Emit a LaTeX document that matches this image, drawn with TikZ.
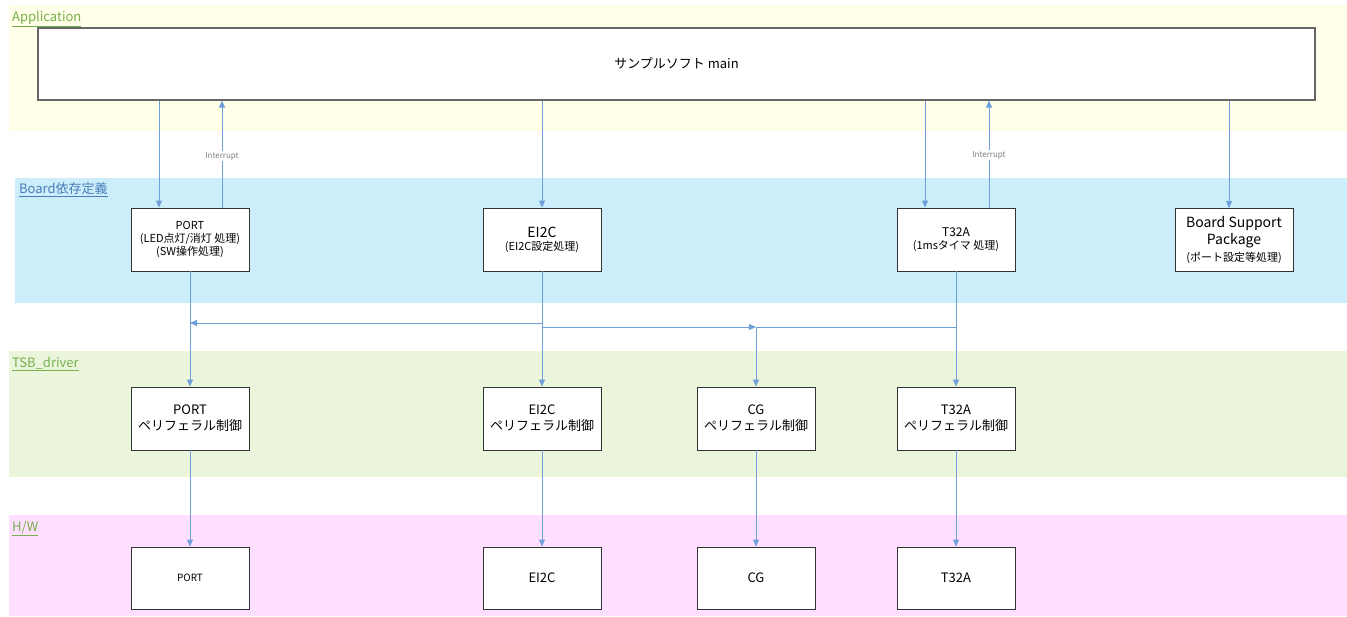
\documentclass[tikz,border=0pt]{standalone}
\usepackage{fontspec}
\setmainfont{Noto Sans CJK JP}
\usetikzlibrary{arrows.meta,calc}
\definecolor{bandY}{HTML}{FFFFEA}
\definecolor{bandB}{HTML}{CCEEFA}
\definecolor{bandG}{HTML}{EAF5DC}
\definecolor{bandP}{HTML}{FFDFFF}
\definecolor{lblG}{HTML}{77B04C}
\definecolor{lblB}{HTML}{4A7EBB}
\definecolor{arrC}{HTML}{6F9FD8}
\definecolor{boxC}{HTML}{333333}
\tikzset{
  box/.style={draw=boxC,line width=0.9pt,fill=white,minimum width=118pt,minimum height=63pt,inner sep=1pt,align=center,font=\fontsize{11}{13}\selectfont},
  arr/.style={draw=arrC,line width=0.9pt,-{Triangle[length=7pt,width=6pt]}},
  ln/.style={draw=arrC,line width=0.9pt},
  bandlbl/.style={anchor=west,inner sep=0pt,font=\fontsize{13}{15}\selectfont},
  intlbl/.style={font=\fontsize{8}{9}\selectfont,text=gray,fill=white,inner sep=1pt}
}
\begin{document}
\begin{tikzpicture}[x=1pt,y=-1pt]
\useasboundingbox (0,0) rectangle (1347,616);
% bands
\fill[bandY] (9,5) rectangle (1347,131);
\fill[bandB] (15,178) rectangle (1347,303);
\fill[bandG] (9,351) rectangle (1347,477);
\fill[bandP] (9,515) rectangle (1347,616);
\node[bandlbl,text=lblG] (lapp) at (12,19) {\underline{Application}};
\node[bandlbl,text=lblB] (lbrd) at (19,190) {\underline{Board依存定義}};
\node[bandlbl,text=lblG] (ltsb) at (12,364) {\underline{TSB\_driver}};
\node[bandlbl,text=lblG] (lhw) at (12,528) {\underline{H/W}};
% main
\node[box,draw=gray!80!black,line width=1.2pt,minimum width=1277pt,minimum height=72pt,font=\fontsize{13}{15}\selectfont] (main) at (676.5,64) {\raisebox{2pt}{サンプルソフト main}};
% board row
\node[box] (pb) at (190,239.5) {PORT\\(LED点灯/消灯 処理)\\(SW操作処理)};
\node[box] (eb) at (542,239.5) {{\fontsize{14}{16}\selectfont EI2C}\\(EI2C設定処理)};
\node[box] (tb) at (956,239.5) {{\fontsize{12}{14}\selectfont T32A}\\(1msタイマ 処理)};
\node[box,font=\fontsize{14}{17}\selectfont] (bb) at (1234,240) {Board Support\\Package\\{\fontsize{11}{13}\selectfont (ポート設定等処理)}};
% driver row
\node[box,font=\fontsize{13}{16}\selectfont] (pd) at (190,418.5) {PORT\\ペリフェラル制御};
\node[box,font=\fontsize{13}{16}\selectfont] (ed) at (542,418.5) {EI2C\\ペリフェラル制御};
\node[box,font=\fontsize{13}{16}\selectfont] (cd) at (756,418.5) {CG\\ペリフェラル制御};
\node[box,font=\fontsize{13}{16}\selectfont] (td) at (956,418.5) {T32A\\ペリフェラル制御};
% hw row
\node[box,minimum height=62pt,font=\fontsize{10}{12}\selectfont] (ph) at (190,578) {PORT};
\node[box,minimum height=62pt,font=\fontsize{13}{15}\selectfont] (eh) at (542,578) {EI2C};
\node[box,minimum height=62pt,font=\fontsize{13}{15}\selectfont] (ch) at (756,578) {CG};
\node[box,minimum height=62pt,font=\fontsize{13}{15}\selectfont] (th) at (956,578) {T32A};
% coordinates
\coordinate (pin) at ([xshift=-31pt]pb.north);
\coordinate (pint) at ([xshift=32pt]pb.north);
\coordinate (tin) at ([xshift=-31pt]tb.north);
\coordinate (tint) at ([xshift=33pt]tb.north);
\coordinate (bin) at ([xshift=-5pt]bb.north);
\coordinate (ej1) at (eb.south |- 0,323);
\coordinate (pj1) at (pb.south |- 0,323);
\coordinate (ej2) at (eb.south |- 0,327);
\coordinate (cj2) at (cd.north |- 0,327);
\coordinate (tj2) at (tb.south |- 0,327);
% main to board
\draw[arr] (main.south -| pin) -- (pin);
\draw[arr] (pint) -- node[intlbl,pos=0.48] (il1) {Interrupt} (main.south -| pint);
\draw[arr] (main.south -| eb.north) -- (eb.north);
\draw[arr] (main.south -| tin) -- (tin);
\draw[arr] (tint) -- node[intlbl,pos=0.49] (il2) {Interrupt} (main.south -| tint);
\draw[arr] (main.south -| bin) -- (bin);
% board to driver
\draw[arr] (pb.south) -- (pd.north);
\draw[arr] (eb.south) -- (ed.north);
\draw[arr] (tb.south) -- (td.north);
\draw[arr] (ej1) -- (pj1);
\draw[arr] (ej2) -- (cj2);
\draw[arr] (tj2) -- (cj2) -- (cd.north);
% driver to hw
\draw[arr] (pd.south) -- (ph.north);
\draw[arr] (ed.south) -- (eh.north);
\draw[arr] (cd.south) -- (ch.north);
\draw[arr] (td.south) -- (th.north);
\end{tikzpicture}
\end{document}
